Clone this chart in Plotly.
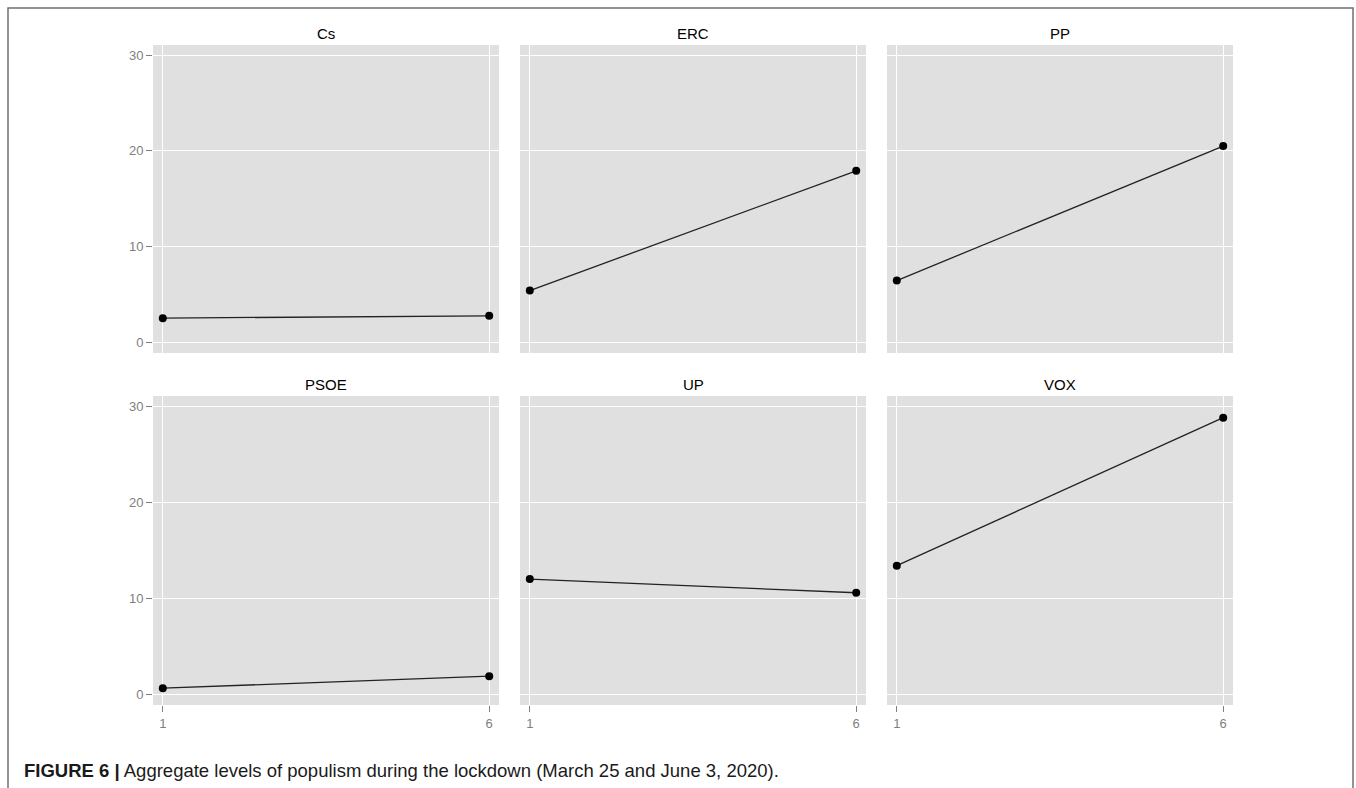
import plotly.graph_objects as go

W, H = 1356, 788

parties = ["Cs", "ERC", "PP", "PSOE", "UP", "VOX"]
waves = [1, 6]
cs_vals = [2.54, 2.78]
erc_vals = [5.42, 17.92]
pp_vals = [6.46, 20.5]
psoe_vals = [0.65, 1.9]
up_vals = [12.0, 10.58]
vox_vals = [13.4, 28.8]
series = [cs_vals, erc_vals, pp_vals, psoe_vals, up_vals, vox_vals]
y_ticks = [0, 10, 20, 30]
x_ticks = [1, 6]

col_px = [(153, 499), (520, 866), (887, 1233)]
row_px = [(45, 353), (396, 705)]

PANEL_BG = "#E0E0E0"
TICK_COL = "#7F7F7F"
FONT = "Liberation Sans, Arial, Helvetica, sans-serif"

fig = go.Figure()
annotations = []

for i, (name, vals) in enumerate(zip(parties, series)):
    r, c = divmod(i, 3)
    k = i + 1
    xa = "x" if k == 1 else f"x{k}"
    ya = "y" if k == 1 else f"y{k}"
    x0, x1 = col_px[c]
    y0, y1 = row_px[r]
    xdom = [x0 / W, x1 / W]
    ydom = [1 - y1 / H, 1 - y0 / H]
    fig.add_trace(go.Scatter(
        x=waves, y=vals, xaxis=xa, yaxis=ya, mode="lines+markers",
        line=dict(color="#222222", width=1.3),
        marker=dict(color="black", size=8),
        showlegend=False, hoverinfo="x+y",
    ))
    xkey = "xaxis" if k == 1 else f"xaxis{k}"
    ykey = "yaxis" if k == 1 else f"yaxis{k}"
    fig.layout[xkey] = dict(
        domain=xdom, anchor=ya, range=[0.85, 6.15],
        tickvals=x_ticks,
        showticklabels=(r == 1), ticks="outside" if r == 1 else "",
        ticklen=6, tickwidth=1, tickcolor=TICK_COL,
        tickfont=dict(family=FONT, size=13, color=TICK_COL),
        showgrid=True, gridcolor="white", gridwidth=1,
        zeroline=False, showline=False, fixedrange=True,
    )
    fig.layout[ykey] = dict(
        domain=ydom, anchor=xa, range=[-1.1, 31.05],
        tickvals=y_ticks,
        showticklabels=(c == 0), ticks="outside" if c == 0 else "",
        ticklen=6, tickwidth=1, tickcolor=TICK_COL,
        tickfont=dict(family=FONT, size=13, color=TICK_COL),
        showgrid=True, gridcolor="white", gridwidth=1,
        zeroline=False, showline=False, fixedrange=True,
    )
    annotations.append(dict(
        text=name, xref="paper", yref="paper",
        x=(xdom[0] + xdom[1]) / 2, y=1 - 33 / H if r == 0 else 1 - 384 / H,
        yanchor="middle", xanchor="center", showarrow=False,
        font=dict(family=FONT, size=15, color="black"),
    ))

annotations.append(dict(
    text="<b>FIGURE 6 |</b> Aggregate levels of populism during the lockdown (March 25 and June 3, 2020).",
    xref="paper", yref="paper", x=22 / W, y=1 - 770 / H,
    xanchor="left", yanchor="middle", showarrow=False,
    font=dict(family=FONT, size=18.5, color="#1a1a1a"),
))

shapes = []
for i in range(6):
    k = i + 1
    xa = "x" if k == 1 else f"x{k}"
    ya = "y" if k == 1 else f"y{k}"
    shapes.append(dict(type="rect", xref=f"{xa} domain", yref=f"{ya} domain",
                       x0=0, x1=1, y0=0, y1=1, fillcolor=PANEL_BG,
                       line=dict(width=0), layer="below"))
shapes.append(dict(type="path", xref="paper", yref="paper",
                   path=f"M {8/W},-0.05 L {8/W},{1-8/H} L {1353/W},{1-8/H} L {1353/W},-0.05",
                   line=dict(color="#707070", width=1.5)))

fig.update_layout(
    width=W, height=H, margin=dict(l=0, r=0, t=0, b=0),
    paper_bgcolor="white", plot_bgcolor="rgba(0,0,0,0)",
    annotations=annotations, shapes=shapes,
    font=dict(family=FONT),
)

fig.write_html(
    "out.html",
    config={"displayModeBar": False},
    post_script="document.body.style.margin='0';document.body.style.overflow='hidden';",
)
